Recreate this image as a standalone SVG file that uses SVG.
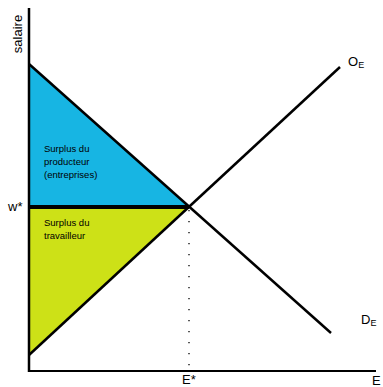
<svg xmlns="http://www.w3.org/2000/svg" width="383" height="387" viewBox="0 0 383 387">
<style>
.t{font-family:"Liberation Sans",Arial,sans-serif;fill:#000}
.s{font-size:9.5px}
.l{font-size:13px}
.ln{stroke:#000;stroke-width:2.5;fill:none}
</style>
<rect width="383" height="387" fill="#fff"/>
<g id="producer-surplus">
<polygon points="29,64 189,207 29,207" fill="#17b5e3"/>
<text class="t s" x="44" y="152">Surplus du</text>
<text class="t s" x="44" y="165">producteur</text>
<text class="t s" x="44" y="178">(entreprises)</text>
</g>
<g id="worker-surplus">
<polygon points="29,207 189,207 29,354" fill="#cde117"/>
<text class="t s" x="44" y="226">Surplus du</text>
<text class="t s" x="44" y="239">travailleur</text>
</g>
<g id="connectors">
<line class="ln" x1="29" y1="64" x2="331" y2="333"/>
<line class="ln" x1="29" y1="355" x2="340" y2="67"/>
<line x1="29" y1="207" x2="189" y2="207" stroke="#000" stroke-width="4"/>
<line x1="189" y1="210" x2="189" y2="370" stroke="#000" stroke-width="1.3" stroke-dasharray="1.3 9.7"/>
</g>
<g id="axes">
<line x1="29" y1="8" x2="29" y2="372" stroke="#000" stroke-width="2.5"/>
<line x1="28" y1="371" x2="376" y2="371" stroke="#000" stroke-width="2"/>
<text class="t l" transform="translate(22,34) rotate(-90)" text-anchor="middle">salaire</text>
<text class="t l" x="372" y="385">E</text>
</g>
<g id="labels">
<text class="t l" x="8" y="211">w*</text>
<text class="t l" x="182" y="384">E*</text>
<text class="t l" x="348" y="66">O<tspan font-size="9" dy="2">E</tspan></text>
<text class="t l" x="361" y="324">D<tspan font-size="9" dy="2">E</tspan></text>
</g>
</svg>
